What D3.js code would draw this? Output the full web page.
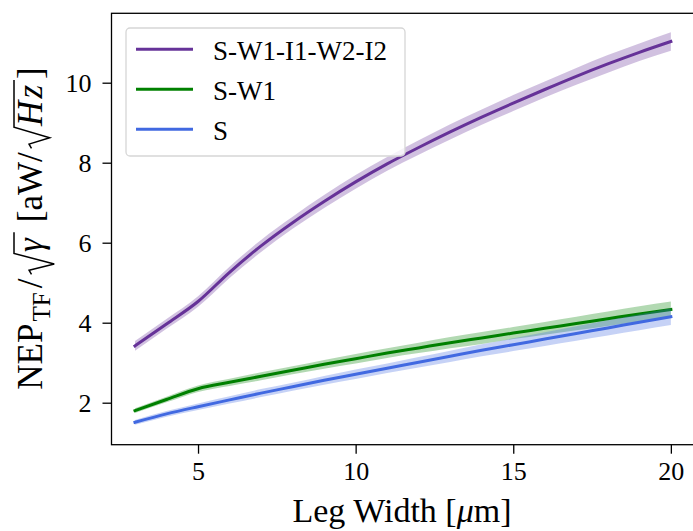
<!DOCTYPE html>
<html>
<head>
<meta charset="utf-8">
<script src="https://cdn.jsdelivr.net/npm/d3@7"></script>
<style>
  body { margin: 0; background: #fff; }
  svg { display: block; }
</style>
</head>
<body>
<div class="container"></div>
<script>
"use strict";

const SERIF = "'Liberation Serif', 'DejaVu Serif', serif";

// leg widths in um
const legWidth = [3, 4, 5, 6, 7, 8, 9, 10, 11, 12, 13, 14, 15, 16, 17, 18, 19, 20];

const seriesNames = ["S-W1-I1-W2-I2", "S-W1", "S"];
const seriesColors = ["#663399", "#008000", "#4169e1"];

// NEP_TF / sqrt(gamma)
const nepFull = [3.42, 3.97, 4.53, 5.26, 5.92, 6.5, 7.03, 7.52, 7.97, 8.38, 8.77, 9.14, 9.49, 9.83, 10.16, 10.47, 10.76, 11.03];
const nepW1 = [1.8, 2.08, 2.35, 2.51, 2.66, 2.81, 2.96, 3.1, 3.24, 3.37, 3.5, 3.62, 3.74, 3.86, 3.98, 4.1, 4.22, 4.33];
const nepS = [1.51, 1.72, 1.9, 2.07, 2.24, 2.4, 2.56, 2.71, 2.86, 3.01, 3.16, 3.31, 3.45, 3.59, 3.73, 3.87, 4.01, 4.15];

// half width of the shaded bands
const errFull = [0.12, 0.12, 0.13, 0.14, 0.15, 0.15, 0.16, 0.17, 0.17, 0.18, 0.19, 0.19, 0.2, 0.2, 0.21, 0.22, 0.22, 0.23];
const errW1 = [0.06, 0.07, 0.08, 0.09, 0.1, 0.1, 0.11, 0.12, 0.12, 0.13, 0.14, 0.15, 0.15, 0.16, 0.17, 0.18, 0.19, 0.2];
const errS = [0.06, 0.07, 0.08, 0.09, 0.1, 0.1, 0.11, 0.12, 0.12, 0.13, 0.14, 0.15, 0.16, 0.17, 0.18, 0.19, 0.2, 0.21];

const xTicks = [5, 10, 15, 20];
const yTicks = [2, 4, 6, 8, 10];

const width = 693;
const height = 531;
const plot = { left: 111.5, right: 697.5, top: 13.3, bottom: 444.7 };

const svg = d3
  .select(".container")
  .append("svg")
  .attr("width", width)
  .attr("height", height)
  .style("font-family", SERIF);

const x = d3.scaleLinear().domain([2.255, 20.845]).range([plot.left, plot.right]);
const y = d3.scaleLinear().domain([0.95, 11.735]).range([plot.bottom, plot.top]);

svg
  .append("clipPath")
  .attr("id", "clip")
  .append("rect")
  .attr("x", plot.left)
  .attr("y", plot.top)
  .attr("width", plot.right - plot.left)
  .attr("height", plot.bottom - plot.top);

const series = [
  { name: seriesNames[0], color: seriesColors[0], vals: nepFull, err: errFull },
  { name: seriesNames[1], color: seriesColors[1], vals: nepW1, err: errW1 },
  { name: seriesNames[2], color: seriesColors[2], vals: nepS, err: errS }
];

const marks = svg.append("g").attr("clip-path", "url(#clip)");

series.forEach((s) => {
  const pts = legWidth.map((w, i) => ({ w: w, v: s.vals[i], e: s.err[i] }));
  const band = d3
    .area()
    .curve(d3.curveMonotoneX)
    .x((d) => x(d.w))
    .y0((d) => y(d.v - d.e))
    .y1((d) => y(d.v + d.e));
  const line = d3
    .line()
    .curve(d3.curveMonotoneX)
    .x((d) => x(d.w))
    .y((d) => y(d.v));
  marks
    .append("path")
    .datum(pts)
    .attr("d", line)
    .attr("fill", "none")
    .attr("stroke", s.color)
    .attr("stroke-width", 3)
    .attr("stroke-linejoin", "round")
    .attr("stroke-linecap", "square");
  marks
    .append("path")
    .datum(pts)
    .attr("d", band)
    .attr("fill", s.color)
    .attr("fill-opacity", 0.3);
});

///////////////////////////////////////
// axes
const xAxis = d3.axisBottom(x).tickValues(xTicks).tickSize(9).tickPadding(8).tickSizeOuter(0);
const yAxis = d3.axisLeft(y).tickValues(yTicks).tickSize(9).tickPadding(11).tickSizeOuter(0);

const gx = svg.append("g").attr("transform", "translate(0," + plot.bottom + ")").call(xAxis);
const gy = svg.append("g").attr("transform", "translate(" + plot.left + ",0)").call(yAxis);

[gx, gy].forEach((g) => {
  g.attr("font-family", null).attr("font-size", null);
  g.select(".domain").remove();
  g.selectAll(".tick line").attr("stroke", "#000").attr("stroke-width", 1.3);
  g.selectAll(".tick text")
    .style("font-family", SERIF)
    .style("font-size", "26px")
    .attr("fill", "#000");
});

// frame
svg
  .append("rect")
  .attr("x", plot.left)
  .attr("y", plot.top)
  .attr("width", plot.right - plot.left)
  .attr("height", plot.bottom - plot.top)
  .attr("fill", "none")
  .attr("stroke", "#000")
  .attr("stroke-width", 1.3);

///////////////////////////////////////
// x label
const xl = svg
  .append("text")
  .attr("x", 402)
  .attr("y", 521.5)
  .attr("text-anchor", "middle")
  .style("font-family", SERIF)
  .style("font-size", "34px");
xl.append("tspan").text("Leg Width [");
xl.append("tspan").style("font-style", "italic").text("μ");
xl.append("tspan").text("m]");

///////////////////////////////////////
// y label, built piece by piece
const F = 35;
const yl = svg.append("g");
let cx = 0;

function piece(str, opts) {
  opts = opts || {};
  const t = yl
    .append("text")
    .attr("x", cx)
    .attr("y", opts.dy || 0)
    .style("font-family", SERIF)
    .style("font-size", (opts.size || F) + "px")
    .style("font-style", opts.italic ? "italic" : "normal")
    .text(str);
  const w = t.node().getComputedTextLength();
  cx += w + (opts.gap || 0);
}

function radical(content, bottom) {
  const x0 = cx;
  const top = -0.8 * F;
  cx += 0.64 * F;
  content();
  yl.append("path")
    .attr(
      "d",
      `M${x0},${-0.3 * F} L${x0 + 0.12 * F},${-0.37 * F} L${x0 + 0.3 * F},${bottom} L${x0 + 0.6 * F},${top} L${cx + 2},${top}`
    )
    .attr("fill", "none")
    .attr("stroke", "#000")
    .attr("stroke-width", 1.5)
    .attr("stroke-linejoin", "miter");
  cx += 3;
}

piece("NEP", { gap: 2 });
piece("TF", { size: 0.72 * F, dy: 0.22 * F, gap: 4 });
piece("/", { gap: 4 });
radical(() => piece("γ", { italic: true, gap: 4 }), 0.35 * F);
cx += 9;
piece("[aW/", { gap: 4 });
radical(() => {
  piece("H", { italic: true, gap: 2 });
  piece("z", { italic: true, gap: 3 });
}, 0.22 * F);
piece("]");

yl.attr("transform", "translate(42," + (228.5 + cx / 2) + ") rotate(-90)");

///////////////////////////////////////
// legend
const legend = svg.append("g").attr("id", "legend");
legend
  .append("rect")
  .attr("x", 126)
  .attr("y", 28)
  .attr("width", 279)
  .attr("height", 128)
  .attr("rx", 4)
  .attr("fill", "#fff")
  .attr("fill-opacity", 0.8)
  .attr("stroke", "#d6d6d6")
  .attr("stroke-width", 1.3);

const items = legend
  .selectAll(".legend-item")
  .data(series)
  .enter()
  .append("g")
  .attr("class", "legend-item")
  .attr("transform", (d, i) => "translate(0," + (49.3 + i * 40) + ")");

items
  .append("line")
  .attr("x1", 136)
  .attr("x2", 193)
  .attr("stroke", (d) => d.color)
  .attr("stroke-width", 3);

items
  .append("text")
  .attr("x", 213)
  .attr("y", 10.5)
  .style("font-family", SERIF)
  .style("font-size", "27px")
  .text((d) => d.name);
</script>
</body>
</html>
